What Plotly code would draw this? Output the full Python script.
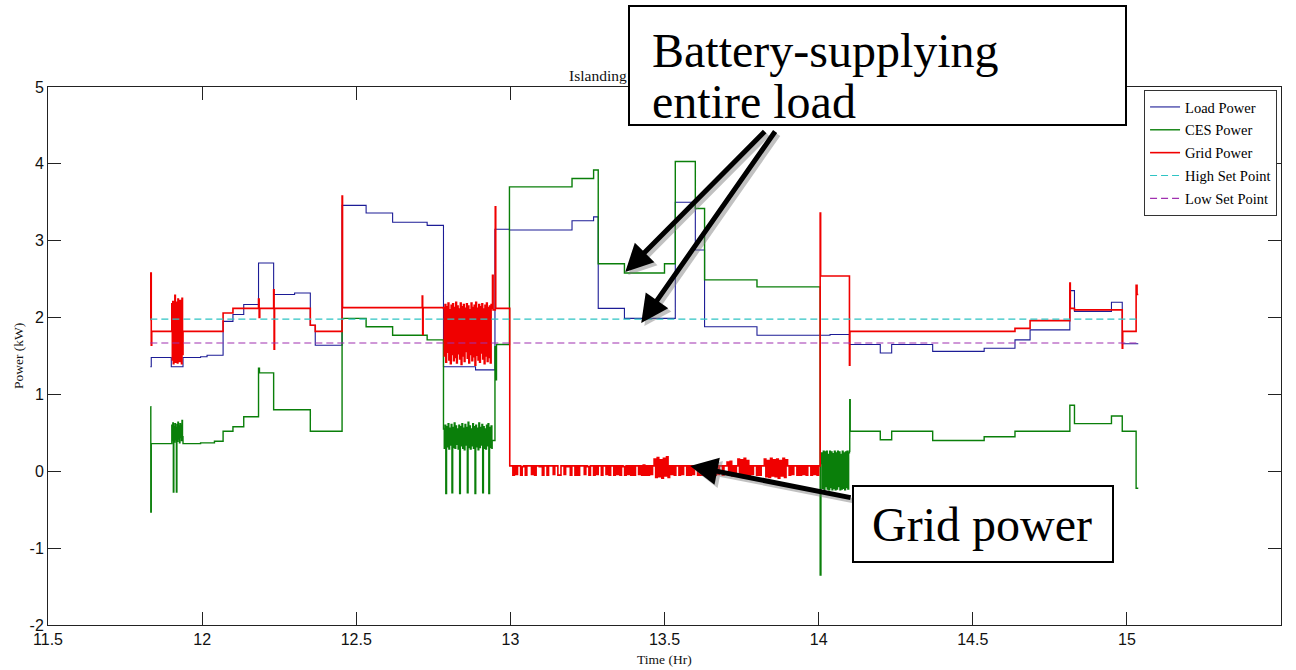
import numpy as np
import plotly.graph_objects as go

# ---- step breakpoints: time (hr) and power (kW); each level holds until the next time ----
LOAD_T = [11.832, 11.835, 11.900, 11.938, 11.995, 12.016, 12.068, 12.100, 12.135, 12.183,
          12.232, 12.300, 12.351, 12.367, 12.454, 12.532, 12.618, 12.730, 12.783, 12.887,
          12.950, 12.997, 13.200, 13.270, 13.285, 13.370, 13.535, 13.600, 13.630, 13.800,
          14.037, 14.100, 14.200, 14.237, 14.370, 14.537, 14.637, 14.686, 14.815, 14.830,
          14.950, 14.985, 15.037]
LOAD_KW = [1.36, 1.48, 1.36, 1.48, 1.49, 1.51, 1.95, 2.04, 2.17, 2.71,
           2.30, 2.32, 1.90, 1.64, 3.46, 3.36, 3.24, 3.20, 1.36, 1.32,
           3.15, 3.14, 3.26, 3.31, 2.12, 1.99, 3.50, 2.88, 1.88, 1.77,
           1.78, 1.65, 1.54, 1.65, 1.56, 1.60, 1.71, 1.84, 2.35, 2.08,
           2.20, 1.66, 1.66]

CES_T = [11.832, 11.8335, 11.835, 11.939, 11.995, 12.040, 12.068, 12.100, 12.135, 12.183,
         12.186, 12.232, 12.351, 12.454, 12.532, 12.618, 12.730, 12.941, 12.950, 12.9525,
         12.955, 12.997, 13.200, 13.270, 13.285, 13.370, 13.500, 13.535, 13.600, 13.630,
         13.800, 14.005, 14.0075, 14.101, 14.1025, 14.200, 14.237, 14.370, 14.537, 14.637,
         14.815, 14.830, 14.950, 14.985, 15.030, 15.037]
CES_KW = [0.84, -0.53, 0.36, 0.36, 0.37, 0.39, 0.52, 0.58, 0.71, 1.34,
          1.28, 0.80, 0.52, 1.99, 1.88, 1.77, 1.71, 0.40, 1.62, 1.19,
          1.65, 3.70, 3.81, 3.92, 2.70, 2.58, 2.70, 4.03, 3.42, 2.49,
          2.40, -1.35, 0.10, 0.93, 0.52, 0.41, 0.52, 0.40, 0.45, 0.52,
          0.86, 0.62, 0.72, 0.52, -0.22, -0.22]

GRID_T = [11.832, 11.8335, 11.835, 11.8365, 11.939, 12.068, 12.100, 12.183, 12.185, 12.187,
          12.232, 12.2335, 12.235, 12.351, 12.367, 12.454, 12.4555, 12.714, 12.7155, 12.717,
          12.942, 12.944, 12.951, 12.9525, 14.005, 14.0065, 14.100, 14.1015, 14.637, 14.686,
          14.815, 14.8165, 14.830, 14.985, 14.9865, 15.030, 15.033, 15.037]
GRID_KW = [1.97, 2.58, 1.64, 1.82, 1.82, 2.06, 2.12, 2.24, 2.00, 2.12,
           2.36, 1.59, 2.12, 1.90, 1.82, 3.58, 2.13, 2.28, 1.78, 2.13,
           2.55, 2.10, 3.44, 2.12, 3.36, 2.54, 1.38, 1.82, 1.86, 1.96,
           2.45, 2.12, 2.10, 1.60, 1.82, 2.42, 2.30, 2.30]

# ---- fast switching intervals, logged sample by sample over (start, end) ----
GRID_BURST_1_SPAN = (11.900, 11.938)
GRID_BURST_1_KW = [1.82, 2.18, 1.45, 2.21, 1.40, 2.15, 1.48, 2.29, 1.42, 2.20, 1.46, 2.17,
                   1.41, 2.24, 1.50, 2.19, 1.43, 2.22, 1.47, 2.16, 1.40, 2.25, 1.52, 1.82]

GRID_BURST_2_SPAN = (12.783, 12.940)
GRID_BURST_2_KW = [2.12, 1.50, 2.17, 1.42, 2.14, 1.55, 2.19, 1.45, 2.10, 1.40, 2.16, 1.52,
                   2.18, 1.44, 2.13, 1.48, 2.20, 1.41, 2.15, 1.53, 2.11, 1.46, 2.19, 1.39,
                   2.14, 1.50, 2.17, 1.43, 2.12, 1.56, 2.18, 1.47, 2.15, 1.41, 2.10, 1.52,
                   2.19, 1.44, 2.13, 1.49, 2.16, 1.38, 2.20, 1.51, 2.12, 1.45, 2.17, 1.42,
                   2.14, 1.54, 2.18, 1.46, 2.11, 1.40, 2.16, 1.50, 2.19, 1.43, 2.13, 1.48,
                   2.15, 1.41, 2.17, 2.12]

# grid import while islanded: near zero with switching dips
GRID_ISLAND_SPAN = (12.998, 14.000)
GRID_ISLAND_KW = [
    0.07, 0.07, -0.05, 0.07, -0.04, 0.07, 0.07, -0.05, 0.06, 0.07,
    -0.05, 0.07, 0.07, 0.07, -0.04, 0.07, -0.05, 0.07, 0.07, 0.06,
    0.07, -0.05, 0.07, 0.07, -0.05, 0.07, 0.07, 0.07, -0.04, 0.07,
    0.07, -0.05, -0.05, 0.07, 0.07, -0.04, 0.07, 0.06, 0.07, -0.05,
    0.07, 0.07, -0.05, 0.07, -0.05, 0.07, 0.07, 0.07, -0.04, 0.07,
    0.06, -0.05, 0.07, 0.07, -0.05, 0.07, -0.04, 0.07, 0.07, -0.05,
    0.07, 0.07, -0.04, 0.07, -0.05, 0.07, 0.07, -0.05, 0.07, -0.04,
    0.07, -0.05, 0.07, 0.06, -0.05, 0.07, -0.04, 0.07, -0.05, 0.07,
    -0.05, 0.07, 0.07, -0.04, 0.07, -0.05, 0.08, -0.05, 0.07, -0.05,
    0.07, -0.04, 0.07, 0.16, -0.08, 0.18, -0.07, 0.15, -0.09, 0.17,
    -0.06, 0.19, -0.08, 0.07, -0.04, 0.07, -0.05, 0.07, 0.07, -0.05,
    0.07, -0.04, 0.07, 0.07, -0.05, 0.07, -0.05, 0.07, -0.04, 0.07,
    0.07, -0.05, 0.07, -0.05, 0.07, 0.07, -0.04, 0.07, -0.05, 0.07,
    0.07, 0.07, -0.05, 0.07, -0.04, 0.07, 0.07, -0.05, 0.07, 0.07,
    0.12, -0.05, 0.13, -0.06, 0.07, -0.05, 0.07, 0.16, -0.07, 0.15,
    -0.08, 0.17, -0.06, 0.14, -0.05, 0.07, -0.04, 0.07, 0.07, -0.05,
    0.07, -0.05, 0.07, 0.07, 0.16, -0.07, 0.14, -0.08, 0.17, -0.06,
    0.15, -0.07, 0.16, -0.09, 0.14, -0.06, 0.17, -0.08, 0.15, 0.07,
    -0.05, 0.07, -0.04, 0.07, 0.07, -0.05, 0.07, -0.05, 0.07, -0.04,
    0.07, -0.05, 0.07, 0.07, -0.05, 0.07, -0.04, 0.07, -0.05, 0.07,
]

CES_BURST_1_SPAN = (11.900, 11.938)
CES_BURST_1_KW = [0.36, 0.60, 0.40, 0.63, -0.27, 0.58, 0.38, 0.62, 0.41, 0.57, -0.27, 0.61,
                  0.39, 0.64, 0.42, 0.59, 0.37, 0.62, 0.44, 0.60, 0.40, 0.66, 0.45, 0.36]

CES_BURST_2_SPAN = (12.783, 12.940)
CES_BURST_2_KW = [0.55, 0.30, 0.60, -0.29, 0.58, 0.32, 0.62, 0.29, 0.56, 0.34, 0.61, -0.28,
                  0.57, 0.31, 0.63, 0.30, 0.59, 0.35, 0.55, 0.29, 0.60, -0.29, 0.58, 0.33,
                  0.62, 0.30, 0.56, 0.28, 0.61, 0.34, 0.57, -0.28, 0.64, 0.31, 0.59, 0.29,
                  0.55, 0.33, 0.62, 0.30, 0.58, -0.29, 0.60, 0.32, 0.56, 0.28, 0.63, 0.31,
                  0.57, 0.34, 0.61, -0.28, 0.58, 0.30, 0.55, 0.29, 0.60, 0.33, 0.62, -0.29,
                  0.57, 0.31, 0.59, 0.30]

CES_BURST_3_SPAN = (14.010, 14.100)
CES_BURST_3_KW = [0.24, -0.22, 0.26, -0.24, 0.25, -0.20, 0.26, -0.23, 0.22, -0.24, 0.26, -0.21,
                  0.25, -0.24, 0.23, -0.22, 0.26, -0.24, 0.24, -0.23, 0.26, -0.20, 0.25, -0.24,
                  0.22, -0.23, 0.26, -0.22, 0.24, -0.24, 0.25, -0.21, 0.26, -0.23, 0.24, 0.26]

# ---- battery dispatch set points ----
SETPOINT_T = [11.832, 15.037]
HIGH_SET_KW = 1.98
LOW_SET_KW = 1.67

X_TICKS = [11.5, 12, 12.5, 13, 13.5, 14, 14.5, 15, 15.5]
Y_TICKS = [-2, -1, 0, 1, 2, 3, 4, 5]
Y_TICK_TEXT = ["-2", "-1", "0", "1", "2", "3", "4", "5"]


def merge(step_t, step_v, bursts):
    """Combine step breakpoints with sample-by-sample intervals, in time order."""
    t = list(step_t)
    v = list(step_v)
    for (t0, t1), vals in bursts:
        t.extend(np.linspace(t0, t1, len(vals)))
        v.extend(vals)
    order = np.argsort(t, kind="stable")
    return np.asarray(t)[order], np.asarray(v)[order]


load_t, load_v = LOAD_T, LOAD_KW
ces_t, ces_v = merge(CES_T, CES_KW, [(CES_BURST_1_SPAN, CES_BURST_1_KW),
                                     (CES_BURST_2_SPAN, CES_BURST_2_KW),
                                     (CES_BURST_3_SPAN, CES_BURST_3_KW)])
grid_t, grid_v = merge(GRID_T, GRID_KW, [(GRID_BURST_1_SPAN, GRID_BURST_1_KW),
                                         (GRID_BURST_2_SPAN, GRID_BURST_2_KW),
                                         (GRID_ISLAND_SPAN, GRID_ISLAND_KW)])

SERIF = "Liberation Serif"
SANS = "Liberation Sans"

fig = go.Figure()
fig.add_trace(go.Scatter(x=load_t, y=load_v, mode="lines", name="Load Power",
                         line=dict(color="#1c1c96", width=1.1, shape="hv"), legendgroup="a"))
fig.add_trace(go.Scatter(x=ces_t, y=ces_v, mode="lines", name="CES Power",
                         line=dict(color="#0a7f0a", width=1.4, shape="hv"), legendgroup="b"))
fig.add_trace(go.Scatter(x=grid_t, y=grid_v, mode="lines", name="Grid Power",
                         line=dict(color="#f00000", width=1.6, shape="hv"), legendgroup="c"))
fig.add_trace(go.Scatter(x=SETPOINT_T, y=[HIGH_SET_KW] * len(SETPOINT_T), mode="lines",
                         name="High Set Point",
                         line=dict(color="#2ec4c4", width=1.1, dash="7px,4px"), legendgroup="d"))
fig.add_trace(go.Scatter(x=SETPOINT_T, y=[LOW_SET_KW] * len(SETPOINT_T), mode="lines",
                         name="Low Set Point",
                         line=dict(color="#a030b0", width=1.1, dash="7px,4px"), legendgroup="e"))

axis_common = dict(showgrid=False, zeroline=False, showline=True, linecolor="#222",
                   linewidth=1, mirror="ticks", ticks="inside", ticklen=13,
                   tickcolor="#222", tickwidth=1, automargin=False,
                   tickfont=dict(family=SANS, size=16, color="#111"))

fig.update_xaxes(range=[11.5, 15.5], tickvals=X_TICKS, **axis_common)
fig.update_yaxes(range=[-2, 5], tickvals=Y_TICKS, ticktext=Y_TICK_TEXT, **axis_common)

annotations = [
    # chart title, ending at the edge of the upper callout
    dict(text="Islanding", x=0.4209, y=1.0223, xref="paper", yref="paper",
         showarrow=False, xanchor="left", yanchor="middle",
         font=dict(family=SERIF, size=15.5, color="#111")),
    # axis titles
    dict(text="Time (Hr)", x=0.5, y=-0.0648, xref="paper", yref="paper", showarrow=False,
         xanchor="center", yanchor="middle", font=dict(family=SERIF, size=13.5, color="#111")),
    dict(text="Power (kW)", x=-0.0243, y=0.5, xref="paper", yref="paper", showarrow=False,
         xanchor="center", yanchor="middle", textangle=-90,
         font=dict(family=SERIF, size=13.5, color="#111")),
]

# callout arrows (tail -> head, in data coordinates); a soft grey copy sits underneath
arrows = [
    ((13.8298, 4.44), (13.3726, 2.593)),
    ((13.8622, 4.44), (13.4245, 1.930)),
    ((14.1086, -0.347), (13.5833, 0.069)),
]
shadow_dx, shadow_dy = 0.010, -0.04
for (tx, ty), (hx, hy) in arrows:
    annotations.append(dict(x=hx + shadow_dx, y=hy + shadow_dy, ax=tx + shadow_dx,
                            ay=ty + shadow_dy, xref="x", yref="y", axref="x", ayref="y",
                            text="", showarrow=True, arrowhead=2, arrowsize=1.1,
                            arrowwidth=5, arrowcolor="rgba(120,120,120,0.45)",
                            standoff=0, startstandoff=0))
for (tx, ty), (hx, hy) in arrows:
    annotations.append(dict(x=hx, y=hy, ax=tx, ay=ty, xref="x", yref="y", axref="x",
                            ayref="y", text="", showarrow=True, arrowhead=2,
                            arrowsize=1.1, arrowwidth=5, arrowcolor="black",
                            standoff=0, startstandoff=0))

# callout boxes with their text
annotations += [
    dict(text=" ", x=0.6727, y=1.04, xref="paper", yref="paper", showarrow=False,
         width=495, height=117, bgcolor="white", bordercolor="black", borderwidth=2,
         borderpad=0, xanchor="center", yanchor="middle"),
    dict(text="Battery-supplying", x=0.4882, y=1.068, xref="paper", yref="paper",
         showarrow=False, xanchor="left", yanchor="middle",
         font=dict(family=SERIF, size=48, color="black")),
    dict(text="entire load", x=0.4882, y=0.973, xref="paper", yref="paper",
         showarrow=False, xanchor="left", yanchor="middle",
         font=dict(family=SERIF, size=48, color="black")),
    dict(text=" ", x=0.7583, y=0.1877, xref="paper", yref="paper", showarrow=False,
         width=258, height=74, bgcolor="white", bordercolor="black", borderwidth=2,
         borderpad=0, xanchor="center", yanchor="middle"),
    dict(text="Grid power", x=0.6667, y=0.1877, xref="paper", yref="paper",
         showarrow=False, xanchor="left", yanchor="middle",
         font=dict(family=SERIF, size=48, color="black")),
]

fig.update_layout(
    width=1296, height=670, autosize=False,
    margin=dict(l=48, r=15, t=87, b=45, autoexpand=False),
    paper_bgcolor="white", plot_bgcolor="white",
    showlegend=True,
    legend=dict(x=0.9968, y=0.9944, xanchor="right", yanchor="top", bgcolor="white",
                bordercolor="#333", borderwidth=1, tracegroupgap=1,
                font=dict(family=SERIF, size=14.5, color="black")),
    annotations=annotations,
)

fig.write_html("out.html")
